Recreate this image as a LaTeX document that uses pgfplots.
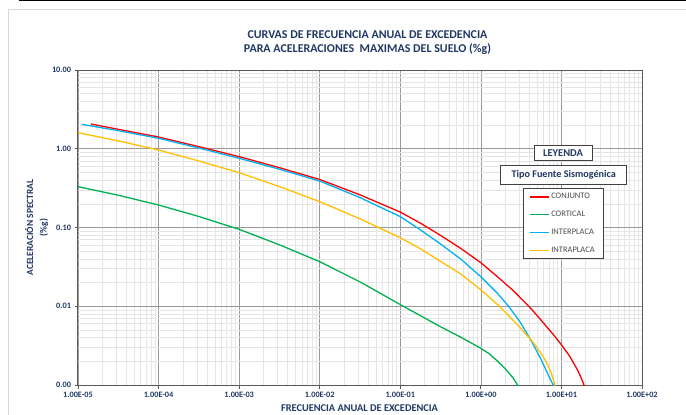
\documentclass[border=0pt]{standalone}
\usepackage{pgfplots}
\pgfplotsset{compat=1.18}
\usepackage{fontspec}
\setmainfont{Carlito}
\definecolor{navy}{RGB}{31,56,100}
\definecolor{cred}{RGB}{255,0,0}
\definecolor{cgreen}{RGB}{0,176,80}
\definecolor{cblue}{RGB}{0,176,240}
\definecolor{cyellow}{RGB}{255,192,0}
\definecolor{framegray}{RGB}{217,217,217}
\definecolor{boxgray}{RGB}{64,64,64}
\begin{document}
\begin{tikzpicture}[x=1bp,y=1bp]
\useasboundingbox (-78,-29) rectangle (608,385);
\draw[framegray, line width=0.9bp] (-69.7,-60) rectangle (640,375.7);
\draw[black, line width=1.4bp] (-59,384.3) -- (640,384.3);
\begin{axis}[
  at={(0,0)}, anchor=south west, scale only axis,
  width=564bp, height=315bp,
  xmode=log, ymode=log,
  xmin=1e-5, xmax=1e2, ymin=1e-3, ymax=10,
  xtick={1e-5,1e-4,1e-3,1e-2,1e-1,1,10,100},
  xticklabels={\textbf{1.00E-05},\textbf{1.00E-04},\textbf{1.00E-03},\textbf{1.00E-02},\textbf{1.00E-01},\textbf{1.00E+00},\textbf{1.00E+01},\textbf{1.00E+02}},
  ytick={1e-3,1e-2,1e-1,1,10},
  yticklabels={\textbf{0.00},\textbf{0.01},\textbf{0.10},\textbf{1.00},\textbf{10.00}},
  minor xtick={2e-5,3e-5,4e-5,5e-5,6e-5,7e-5,8e-5,9e-5,
               2e-4,3e-4,4e-4,5e-4,6e-4,7e-4,8e-4,9e-4,
               2e-3,3e-3,4e-3,5e-3,6e-3,7e-3,8e-3,9e-3,
               2e-2,3e-2,4e-2,5e-2,6e-2,7e-2,8e-2,9e-2,
               0.2,0.3,0.4,0.5,0.6,0.7,0.8,0.9,
               2,3,4,5,6,7,8,9,
               20,30,40,50,60,70,80,90},
  minor ytick={2e-3,3e-3,4e-3,5e-3,6e-3,7e-3,8e-3,9e-3,
               2e-2,3e-2,4e-2,5e-2,6e-2,7e-2,8e-2,9e-2,
               0.2,0.3,0.4,0.5,0.6,0.7,0.8,0.9,
               2,3,4,5,6,7,8,9},
  grid=both,
  major grid style={color=black!40, line width=0.7bp},
  minor grid style={color=black!10, line width=0.5bp},
  axis line style={color=black!65, line width=1bp},
  tick style={color=black!65, line width=0.8bp},
  major tick length=3.5bp, minor tick length=0pt,
  tick align=outside, tick pos=left,
  ticklabel style={font=\fontsize{8.3}{9}\selectfont\bfseries, text=navy},
  legend style={at={(axis description cs:0.789,0.6244)}, anchor=north west,
    draw=boxgray, fill=white,
    font=\fontsize{8.5}{9}\selectfont, text=black!70,
    inner xsep=6bp, inner ysep=2.9bp, row sep=6.8bp,
    cells={anchor=west},
    /tikz/every even column/.append style={column sep=0bp}},
  every axis plot/.append style={line width=1.3bp},
]
\addlegendimage{legend image code/.code={\draw[cred, line width=1.4bp] (0bp,0bp) -- (18.7bp,0bp);}}
\addlegendentry{CONJUNTO}
\addlegendimage{legend image code/.code={\draw[cgreen, line width=1.4bp] (0bp,0bp) -- (18.7bp,0bp);}}
\addlegendentry{CORTICAL}
\addlegendimage{legend image code/.code={\draw[cblue, line width=1.4bp] (0bp,0bp) -- (18.7bp,0bp);}}
\addlegendentry{INTERPLACA}
\addlegendimage{legend image code/.code={\draw[cyellow, line width=1.4bp] (0bp,0bp) -- (18.7bp,0bp);}}
\addlegendentry{INTRAPLACA}
\addplot[cred, forget plot] coordinates {
(1.445e-5,2.06) (3.162e-5,1.766) (1e-4,1.409) (3.162e-4,1.064) (1e-3,0.794)
(3.162e-3,0.575) (1e-2,0.407) (3.162e-2,0.260) (0.1,0.157) (0.1778,0.1135)
(0.3162,0.0794) (0.5623,0.0543) (1,0.0357) (1.585,0.0240) (2.512,0.01585)
(3.981,0.00989) (5.012,0.00759) (6.310,0.00575) (7.943,0.00437) (10,0.00324)
(12.59,0.00234) (15.85,0.00155) (17.78,0.00120) (19.05,0.00100) (20.42,0.00082)};
\addplot[cgreen, forget plot] coordinates {
(1e-5,0.330) (3.162e-5,0.257) (1e-4,0.193) (3.162e-4,0.138) (1e-3,0.0948)
(3.162e-3,0.0603) (1e-2,0.0368) (3.162e-2,0.0204) (0.1,0.0105) (0.3162,0.00549)
(0.5623,0.00405) (0.7943,0.00333) (1,0.00292) (1.259,0.00251) (1.585,0.00204) (1.995,0.00162)
(2.512,0.00123) (2.858,0.00100) (3.020,0.00090)};
\addplot[cblue, forget plot] coordinates {
(1.112e-5,2.042) (3.162e-5,1.698) (1e-4,1.358) (3.162e-4,1.023) (1e-3,0.757)
(3.162e-3,0.550) (1e-2,0.389) (3.162e-2,0.240) (0.1,0.1374) (0.1778,0.0933)
(0.3162,0.0617) (0.5623,0.0398) (1,0.0237) (1.585,0.0148) (2.213,0.0100)
(3.162,0.00603) (4.385,0.00339) (5.623,0.00209) (6.427,0.00155) (7.244,0.00120)
(7.907,0.00100) (8.511,0.00083)};
\addplot[cyellow, forget plot] coordinates {
(1e-5,1.600) (3.162e-5,1.259) (1e-4,0.964) (3.162e-4,0.700) (1e-3,0.497)
(3.162e-3,0.331) (1e-2,0.213) (3.162e-2,0.129) (0.1,0.0741) (0.1778,0.0537)
(0.3162,0.0372) (0.5623,0.0257) (1,0.0162) (1.694,0.0100) (2.818,0.00589)
(4.385,0.00355) (5.623,0.00251) (6.427,0.00200) (7.413,0.00145) (7.943,0.00117)
(8.318,0.00100) (8.710,0.00083)};
\end{axis}
\node[font=\fontsize{12}{14}\selectfont\bfseries, text=navy, align=center] at (289.5,342) {CURVAS DE FRECUENCIA ANUAL DE EXCEDENCIA\\PARA ACELERACIONES\ \ MAXIMAS DEL SUELO (\%g)};
\node[font=\fontsize{10.4}{11}\selectfont\bfseries, text=navy] at (281.5,-23) {FRECUENCIA ANUAL DE EXCEDENCIA};
\node[rotate=90, font=\fontsize{9.5}{13.5}\selectfont\bfseries, text=navy, align=center] at (-41.3,157.5) {ACELERACIÓN SPECTRAL\\(\%g)};
\node[draw=boxgray, line width=1bp, fill=white, minimum width=58bp, minimum height=15.7bp, inner sep=0pt, font=\fontsize{10.5}{11}\selectfont\bfseries, text=navy] at (485,232.1) {LEYENDA};
\node[draw=boxgray, line width=1bp, fill=white, minimum width=126bp, minimum height=18.3bp, inner sep=0pt, font=\fontsize{10.2}{11}\selectfont\bfseries, text=navy] at (485.7,210.1) {Tipo Fuente Sismogénica};
\end{tikzpicture}
\end{document}
